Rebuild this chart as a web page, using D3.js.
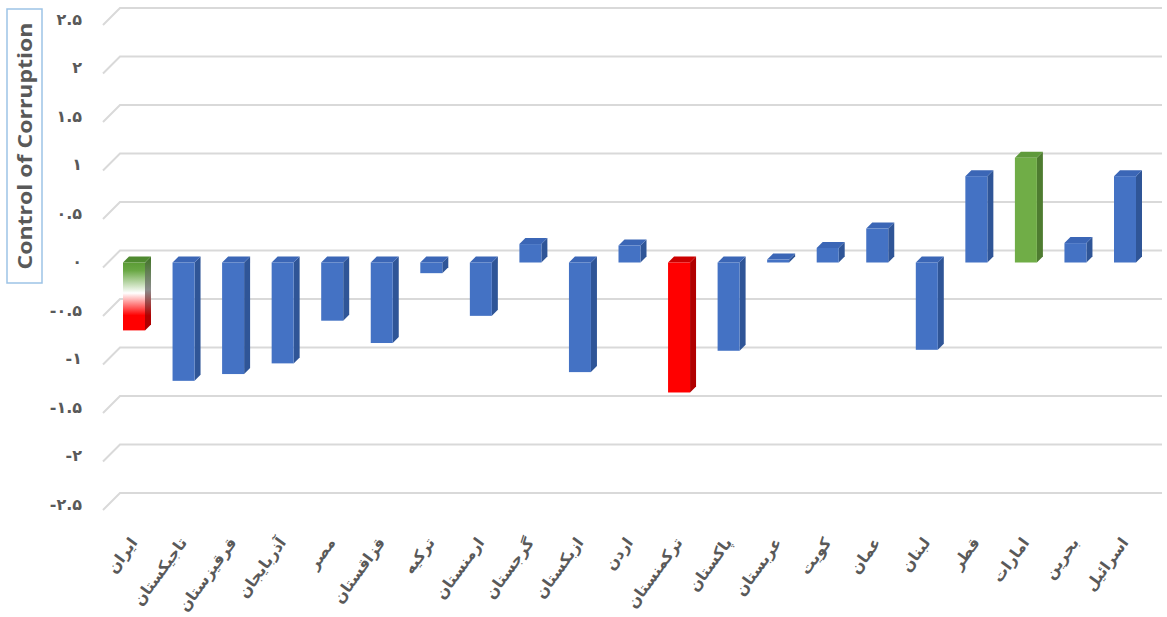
<!DOCTYPE html>
<html>
<head>
<meta charset="utf-8">
<script src="https://cdn.jsdelivr.net/npm/d3@7"></script>
<style>
  body { margin: 0; background: #fff; }
  svg { display: block; }
</style>
</head>
<body>
<div id="chart"></div>
<script>
// values
var categories = ["ایران", "تاجیکستان", "قرقیزستان", "آذربایجان", "مصر", "قزاقستان", "ترکیه",
    "ارمنستان", "گرجستان", "ازبکستان", "اردن", "ترکمنستان", "پاکستان", "عربستان", "کویت",
    "عمان", "لبنان", "قطر", "امارات", "بحرین", "اسرائیل"];
var values = [-0.70, -1.22, -1.15, -1.04, -0.60, -0.83, -0.11, -0.55, 0.19, -1.13, 0.175,
    -1.34, -0.91, 0.03, 0.15, 0.35, -0.90, 0.89, 1.08, 0.20, 0.89];
var yTicks = [-2.5, -2, -1.5, -1, -0.5, 0, 0.5, 1, 1.5, 2, 2.5];
var axisTitle = "Control of Corruption";

// which bars get a special colour
var highlight = { "ایران": "iran", "ترکمنستان": "red", "امارات": "green" };
var palette = {
    blue:  { front: "#4472c4", side: "#2f5597", top: "#3b66b6" },
    red:   { front: "#ff0000", side: "#b00000", top: "#cc0000" },
    green: { front: "#70ad47", side: "#4e7c30", top: "#5f9a3b" },
    iran:  { front: "url(#iranFront)", side: "url(#iranSide)", top: "#4f8a30" }
};

var width = 1167, height = 617;
var wallDx = 17, wallDy = -17;   // back wall offset (gridlines)
var barDy = -5;                  // bar front plane offset
var depth = 6, barWidth = 22;
var gridColor = "#d9d9d9", textColor = "#595959";

var svg = d3.select("#chart").append("svg")
    .attr("width", width)
    .attr("height", height);

var defs = svg.append("defs");
var g1 = defs.append("linearGradient").attr("id", "iranFront")
    .attr("x1", 0).attr("y1", 0).attr("x2", 0).attr("y2", 1);
g1.append("stop").attr("offset", "0%").attr("stop-color", "#5b9b35");
g1.append("stop").attr("offset", "12%").attr("stop-color", "#6aa845");
g1.append("stop").attr("offset", "45%").attr("stop-color", "#ffffff");
g1.append("stop").attr("offset", "78%").attr("stop-color", "#ff0000");
g1.append("stop").attr("offset", "100%").attr("stop-color", "#ff0000");
var g2 = defs.append("linearGradient").attr("id", "iranSide")
    .attr("x1", 0).attr("y1", 0).attr("x2", 0).attr("y2", 1);
g2.append("stop").attr("offset", "0%").attr("stop-color", "#3f7324");
g2.append("stop").attr("offset", "45%").attr("stop-color", "#8c8c8c");
g2.append("stop").attr("offset", "80%").attr("stop-color", "#b00000");
g2.append("stop").attr("offset", "100%").attr("stop-color", "#b00000");

// scales
var yScale = d3.scaleLinear().domain([-2.5, 2.5]).range([510, 25]);
var xScale = d3.scalePoint().domain(categories).range([134, 1125]);

var fa = d3.formatLocale({
    decimal: ".", thousands: ",", grouping: [3], currency: ["", ""],
    numerals: ["۰", "۱", "۲", "۳", "۴", "۵", "۶", "۷", "۸", "۹"], minus: "-"
});
var tickFormat = fa.format(".1~f");

// gridlines with the 3D stub on the left
var x0 = 103;
var grid = svg.append("g");
yTicks.forEach(function(t) {
    var yf = yScale(t), yb = yf + wallDy;
    grid.append("path")
        .attr("d", "M" + x0 + "," + yf + "L" + (x0 + wallDx) + "," + yb + "H" + 1162)
        .attr("fill", "none")
        .attr("stroke", gridColor)
        .attr("stroke-width", 2);
});

// y tick labels
svg.append("g").selectAll("text")
    .data(yTicks)
    .enter()
    .append("text")
        .attr("x", 82)
        .attr("y", function(d) { return yScale(d) - 5; })
        .attr("text-anchor", "end")
        .attr("dominant-baseline", "middle")
        .attr("direction", "ltr")
        .style("font-family", "DejaVu Sans, sans-serif")
        .style("font-weight", "bold")
        .style("font-size", "16px")
        .style("fill", textColor)
        .text(function(d) { return tickFormat(d); });

// bars
var bars = svg.append("g").selectAll("g")
    .data(categories)
    .enter()
    .append("g");

bars.each(function(c, i) {
    var v = values[i];
    var col = palette[highlight[c] || "blue"];
    var cx = xScale(c);
    var xa = cx - barWidth / 2, xb = cx + barWidth / 2;
    var yTop = yScale(Math.max(v, 0)) + barDy;
    var yBot = yScale(Math.min(v, 0)) + barDy;
    var g = d3.select(this);
    g.append("path")
        .attr("d", "M" + xb + "," + yTop + "L" + (xb + depth) + "," + (yTop - depth) +
            "L" + (xb + depth) + "," + (yBot - depth) + "L" + xb + "," + yBot + "Z")
        .attr("fill", col.side);
    g.append("path")
        .attr("d", "M" + xa + "," + yTop + "L" + (xa + depth) + "," + (yTop - depth) +
            "L" + (xb + depth) + "," + (yTop - depth) + "L" + xb + "," + yTop + "Z")
        .attr("fill", col.top);
    g.append("rect")
        .attr("x", xa)
        .attr("y", yTop)
        .attr("width", barWidth)
        .attr("height", yBot - yTop)
        .attr("fill", col.front);
});

// category labels
svg.append("g").selectAll("text")
    .data(categories)
    .enter()
    .append("text")
        .attr("transform", function(d) {
            return "translate(" + (xScale(d) - 5) + ",536) rotate(-54)";
        })
        .attr("text-anchor", "end")
        .attr("dominant-baseline", "hanging")
        .style("font-family", "DejaVu Sans, sans-serif")
        .style("font-weight", "bold")
        .style("font-size", "15.5px")
        .style("fill", textColor)
        .text(function(d) { return d; });

// axis title in a box
svg.append("rect")
    .attr("x", 7).attr("y", 9)
    .attr("width", 35).attr("height", 274)
    .attr("fill", "none")
    .attr("stroke", "#9dc3e6")
    .attr("stroke-width", 1.5);

svg.append("text")
    .attr("transform", "translate(25,146) rotate(-90)")
    .attr("text-anchor", "middle")
    .attr("dominant-baseline", "central")
    .attr("textLength", 247)
    .attr("lengthAdjust", "spacingAndGlyphs")
    .style("font-family", "Open Sans, sans-serif")
    .style("font-weight", "bold")
    .style("font-size", "19px")
    .style("fill", textColor)
    .text(axisTitle);
</script>
</body>
</html>
